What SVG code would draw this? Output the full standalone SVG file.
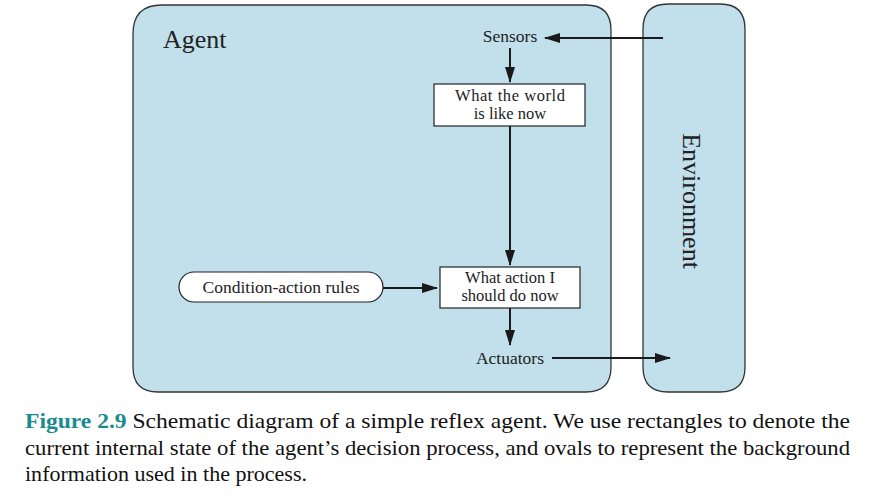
<svg xmlns="http://www.w3.org/2000/svg" width="869" height="504" viewBox="0 0 869 504">
<style>
.pane{fill:#c1e0ec;stroke:#333;stroke-width:1.3}
.box{fill:#fff;stroke:#222;stroke-width:1.2}
.t{font-family:"Liberation Serif",serif;fill:#222;font-size:17.5px;text-anchor:middle}
.s{font-size:16.5px}
.big{font-family:"Liberation Serif",serif;fill:#222;font-size:26px}
.cap{font-family:"Liberation Serif",serif;fill:#111;font-size:22px}
.edge{stroke:#1a1a1a;stroke-width:2;fill:none;marker-end:url(#ah)}
</style>
<defs>
<marker id="ah" viewBox="0 0 16 10" refX="15" refY="5" markerWidth="16" markerHeight="10" markerUnits="userSpaceOnUse" orient="auto">
<path d="M0,0 L16,5 L0,10 z" fill="#1a1a1a"/>
</marker>
</defs>
<rect width="869" height="504" fill="#fff"/>
<g id="agent">
<path class="pane" d="M162,5 H586 Q611,5 611,30 V367 Q611,392 586,392 H158 Q133,392 133,367 V34 Q133,5 162,5 Z"/>
<text class="big" x="163" y="48">Agent</text>
</g>
<g id="environment">
<path class="pane" d="M668,4 H720 Q745,4 745,29 V367 Q745,392 720,392 H668 Q643,392 643,367 V29 Q643,4 668,4 Z"/>
<text class="big" transform="translate(683,201) rotate(90)" text-anchor="middle" font-size="27">Environment</text>
</g>
<g id="sensors"><text class="t" x="510" y="42">Sensors</text></g>
<g id="world">
<rect class="box" x="434" y="84" width="151" height="42"/>
<text class="t s" x="510" y="101" textLength="110">What the world</text>
<text class="t s" x="510" y="119">is like now</text>
</g>
<g id="action">
<rect class="box" x="440" y="267" width="140" height="41"/>
<text class="t s" x="510" y="283">What action I</text>
<text class="t s" x="510" y="301">should do now</text>
</g>
<g id="rules">
<rect class="box" x="179" y="272" width="204" height="30" rx="15" ry="15"/>
<text class="t" x="281" y="293">Condition-action rules</text>
</g>
<g id="actuators"><text class="t" x="510" y="364">Actuators</text></g>
<g id="connectors">
<path class="edge" d="M663,38 H545"/>
<path class="edge" d="M510,48 V82"/>
<path class="edge" d="M510,126 V265"/>
<path class="edge" d="M383,288 H437"/>
<path class="edge" d="M510,308 V345"/>
<path class="edge" d="M552,358 H670"/>
</g>
<g id="caption">
<text class="cap" x="25" y="428" textLength="825" lengthAdjust="spacingAndGlyphs"><tspan font-weight="bold" fill="#1b8a8f">Figure 2.9</tspan> Schematic diagram of a simple reflex agent.  We use rectangles to denote the</text>
<text class="cap" x="25" y="455" textLength="825" lengthAdjust="spacingAndGlyphs">current internal state of the agent’s decision process, and ovals to represent the background</text>
<text class="cap" x="25" y="481" textLength="282" lengthAdjust="spacingAndGlyphs">information used in the process.</text>
</g>
</svg>
